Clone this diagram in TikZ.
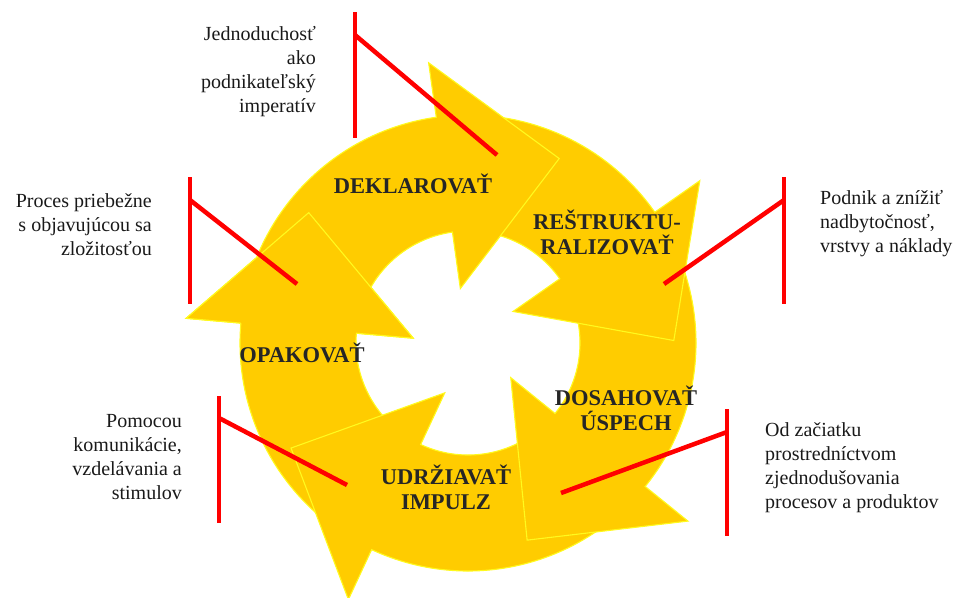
\documentclass[tikz,border=0pt]{standalone}
\usepackage{fontspec}
\setmainfont{Liberation Serif}
\usetikzlibrary{calc}
\begin{document}
\begin{tikzpicture}[x=1pt, y=1pt,
		arrowbody/.style={fill=arrowgold, draw=arrowrim, line width=1.1pt, line join=miter},
		callout/.style={draw=red, line width=4.5pt},
		phase/.style={font=\bfseries\fontsize{22.5}{25}\selectfont, text=labelgray, align=center, inner sep=0pt},
		note/.style={font=\fontsize{20}{24}\selectfont, text=notegray, inner sep=0pt}]
			\definecolor{arrowgold}{RGB}{255, 204, 0}
			\definecolor{arrowrim}{RGB}{255, 250, 30}
			\definecolor{labelgray}{RGB}{38, 38, 38}
			\definecolor{notegray}{RGB}{25, 25, 25}
			\useasboundingbox (0,0) rectangle (955,-597);
			
			% 中心
			\coordinate (c) at (468,-343);
			
			% 五个弧形箭头（按顺序叠放）
			\foreach \h/\t in {175/235, -115/-49, -39/25, 35/88, 98/165}
				\draw[arrowbody] ($(c)+(\t:228pt)$) arc[start angle=\t, end angle=\h, radius=228pt]
					-- ($(c)+(\h:283pt)$) -- ($(c)+(\h:170pt)+(\h-90:116pt)$)
					-- ($(c)+(\h:55pt)$) -- ($(c)+(\h:112pt)$)
					arc[start angle=\h, end angle=\t, radius=112pt] -- cycle;
			
			% 左侧箭头的箭头部分盖在顶部箭头的尾部上
			\fill[arrowgold] ($(c)+(175:228pt)$) -- ($(c)+(175:283pt)$) -- ($(c)+(175:170pt)+(85:116pt)$)
				-- ($(c)+(175:55pt)$) -- ($(c)+(175:112pt)$) -- cycle;
			\draw[arrowrim, line width=1.1pt] ($(c)+(175:228pt)$) -- ($(c)+(175:283pt)$) -- ($(c)+(175:170pt)+(85:116pt)$)
				-- ($(c)+(175:55pt)$) -- ($(c)+(175:112pt)$);
			
			% 箭头上的文字
			\node[phase] (deklarovat) at (413,-184) {DEKLAROVAŤ};
			\node[phase] (restrukt) at (607,-232) {REŠTRUKTU-\\RALIZOVAŤ};
			\node[phase] (dosahovat) at (626,-408) {DOSAHOVAŤ\\ÚSPECH};
			\node[phase] (udrziavat) at (446,-487) {UDRŽIAVAŤ\\IMPULZ};
			\node[phase] (opakovat) at (302,-353) {OPAKOVAŤ};
			
			% 说明文字
			\node[note, anchor=east, align=right] (jednoduchost) at (316,-72) {Jednoduchosť\\ako\\podnikateľský\\imperatív};
			\node[note, anchor=east, align=right] (proces) at (152,-225) {Proces priebežne\\s objavujúcou sa\\zložitosťou};
			\node[note, anchor=west, align=left] (podnik) at (820,-224) {Podnik a znížiť\\nadbytočnosť,\\vrstvy a náklady};
			\node[note, anchor=east, align=right] (pomocou) at (182,-457) {Pomocou\\komunikácie,\\vzdelávania a\\stimulov};
			\node[note, anchor=west, align=left] (odzaciatku) at (765,-468) {Od začiatku\\prostredníctvom\\zjednodušovania\\procesov a produktov};
			
			% 红色指示线
			\coordinate (bar1top) at (355,-12);  \coordinate (bar1bot) at (355,-138);
			\coordinate (bar1joint) at (355,-35); \coordinate (bar1end) at (497,-155);
			\coordinate (bar2top) at (190,-177); \coordinate (bar2bot) at (190,-304);
			\coordinate (bar2joint) at (190,-200); \coordinate (bar2end) at (297,-284);
			\coordinate (bar3top) at (784,-177); \coordinate (bar3bot) at (784,-304);
			\coordinate (bar3joint) at (784,-200); \coordinate (bar3end) at (664,-284);
			\coordinate (bar4top) at (219,-396); \coordinate (bar4bot) at (219,-523);
			\coordinate (bar4joint) at (219,-418); \coordinate (bar4end) at (347,-485);
			\coordinate (bar5top) at (727,-409); \coordinate (bar5bot) at (727,-536);
			\coordinate (bar5joint) at (727,-432); \coordinate (bar5end) at (561,-493);
			\foreach \i in {1,...,5} {
				\draw[callout] (bar\i top) -- (bar\i bot);
				\draw[callout] (bar\i joint) -- (bar\i end);
			}
		\end{tikzpicture}
\end{document}
